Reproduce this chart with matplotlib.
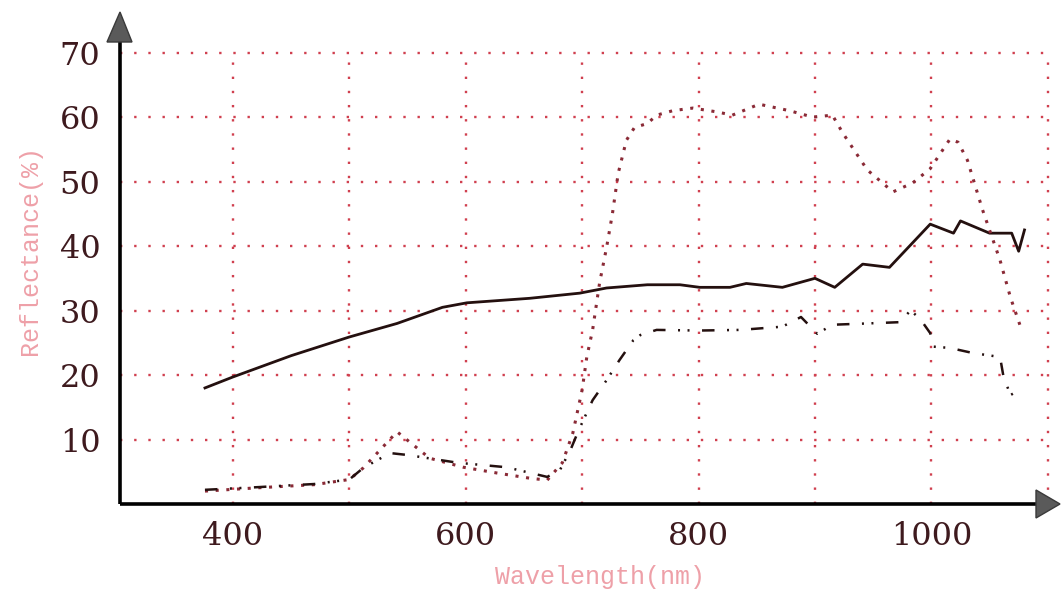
import matplotlib
matplotlib.use('Agg')
import matplotlib.pyplot as plt
from matplotlib.patches import Polygon

# Curve data (wavelength in nm, reflectance in %)
solid_x = [376, 400, 450, 500, 541, 580, 601, 655, 698, 721, 756, 784, 801, 827, 841,
           872, 900, 917, 941, 964, 999, 1019, 1025, 1050, 1069, 1075, 1080]
solid_y = [18, 19.7, 23, 25.9, 28, 30.5, 31.2, 31.9, 32.7, 33.5, 34, 34, 33.6, 33.6, 34.2,
           33.6, 35, 33.6, 37.2, 36.7, 43.4, 42, 43.9, 42, 42, 39.2, 42.5]

dotted_x = [376, 420, 470, 500, 512, 541, 569, 598, 627, 655, 670, 683, 692, 700, 704,
            709, 715, 721, 726, 731, 738, 745, 756, 764, 778, 795, 816, 829, 852, 878,
            898, 915, 924, 945, 967, 984, 999, 1016, 1023, 1031, 1044, 1059, 1068, 1076]
dotted_y = [2, 2.5, 3, 3.8, 5.6, 11.2, 7.1, 5.7, 4.8, 4, 3.7, 6.4, 11, 17.7, 22.8,
            27, 34.3, 39.8, 45, 51.3, 56.4, 58.4, 59, 60.3, 61, 61.4, 60.8, 60.3, 62, 61,
            60, 60.3, 57.5, 51.8, 48.4, 49.8, 52, 56.6, 56.1, 53.3, 45.6, 37.8, 32, 27.8]

dashdot_x = [376, 420, 470, 500, 512, 535, 550, 593, 635, 670, 681, 690, 696, 701, 709,
             721, 732, 744, 750, 764, 800, 836, 872, 888, 902, 915, 945, 973, 982, 990,
             999, 1002, 1016, 1036, 1059, 1062, 1068, 1076]
dashdot_y = [2.2, 2.6, 3.1, 3.8, 5.6, 7.9, 7.6, 6.4, 5.7, 4.2, 5.3, 8.4, 11, 13, 16.1,
             19.2, 22.3, 25.4, 26.2, 27, 26.9, 27, 27.5, 29, 26.4, 27.8, 28, 28.2, 30, 28.8,
             26.5, 24.4, 24.2, 23.4, 22.8, 19.7, 16.9, 17.7]

x_ticks = [400, 600, 800, 1000]
x_grid = [400, 500, 600, 700, 800, 900, 1000, 1100]
y_ticks = [10, 20, 30, 40, 50, 60, 70]

grid_color = '#d0404f'
tick_color = '#3e1a1e'
label_color = '#eea0a8'
line_color = '#24100f'

fig = plt.figure(figsize=(10.61, 5.91), dpi=100)
ax = fig.add_axes([120 / 1061, 87 / 591, 940 / 1061, 492 / 591])
ax.set_xlim(303, 1110.5)
ax.set_ylim(0, 76.3)

# dotted red grid, only inside the 400-1100 / 0-70 box
ax.vlines(x_grid, 0, 70, colors=grid_color, linewidth=1.7, linestyles=(0, (1, 5)), zorder=1)
ax.hlines(y_ticks, 303, 1100, colors=grid_color, linewidth=1.7, linestyles=(0, (1, 5)), zorder=1)

# the three spectra
ax.plot(solid_x, solid_y, color=line_color, linewidth=2.0, zorder=3)
ax.plot(dotted_x, dotted_y, color='#8a2a36', linewidth=2.2, linestyle=(0, (1, 2.5)), zorder=3)
ax.plot(dashdot_x, dashdot_y, color=line_color, linewidth=1.8,
        linestyle=(0, (5, 5, 0.8, 3, 0.8, 5)), zorder=3)

for s in ax.spines.values():
    s.set_visible(False)

ax.set_xticks(x_ticks)
ax.set_yticks(y_ticks)
ax.tick_params(length=0, labelsize=23, labelcolor=tick_color)
ax.tick_params(axis='x', pad=12)
ax.tick_params(axis='y', pad=14)
for lab in ax.get_xticklabels() + ax.get_yticklabels():
    lab.set_family('DejaVu Serif')

# axis lines with arrow heads
ax.plot([0, 0], [0, 0.95], transform=ax.transAxes, color='black', linewidth=2.6,
        clip_on=False, zorder=4, solid_capstyle='butt')
ax.plot([0, 0.98], [0, 0], transform=ax.transAxes, color='black', linewidth=2.6,
        clip_on=False, zorder=4, solid_capstyle='butt')
head_y = Polygon([(0, 1), (-13 / 940, 1 - 30 / 492), (12 / 940, 1 - 30 / 492)],
                 closed=True, transform=ax.transAxes, facecolor='#5a5a5a',
                 edgecolor='#3a3a3a', clip_on=False, zorder=5)
head_x = Polygon([(1, 0), (1 - 24 / 940, 14 / 492), (1 - 24 / 940, -14 / 492)],
                 closed=True, transform=ax.transAxes, facecolor='#5a5a5a',
                 edgecolor='#3a3a3a', clip_on=False, zorder=5)
ax.add_patch(head_y)
ax.add_patch(head_x)

fig.text(30 / 1061, 1 - 250 / 591, 'Reflectance(%)', rotation=90, ha='center', va='center',
         fontsize=18, color=label_color, family='Liberation Mono')
fig.text(600 / 1061, 1 - 577 / 591, 'Wavelength(nm)', ha='center', va='center',
         fontsize=18, color=label_color, family='Liberation Mono')

fig.savefig('out.png', dpi=100)
